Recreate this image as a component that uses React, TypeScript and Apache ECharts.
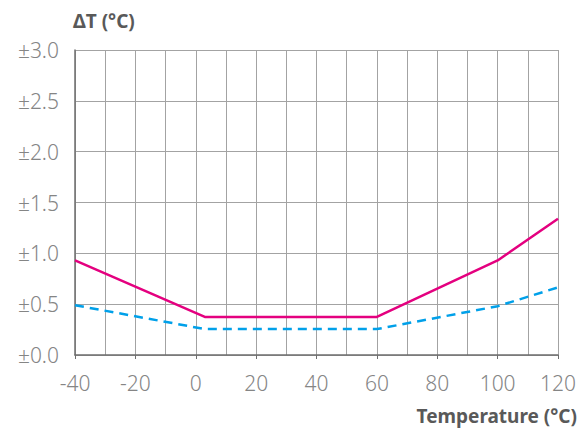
import React, { useEffect, useRef } from "react";
import * as echarts from "echarts";

const upperX = [-40, 3, 60, 100, 120];
const upperY = [0.93, 0.375, 0.375, 0.93, 1.34];
const lowerX = [-40, 3, 60, 100, 120];
const lowerY = [0.49, 0.255, 0.255, 0.48, 0.665];
const yTitle = "ΔT (°C)";
const xTitle = "Temperature (°C)";

export default function App() {
  const ref = useRef<HTMLDivElement>(null);
  useEffect(() => {
    if (!ref.current) return;
    const chart = echarts.init(ref.current, null, { renderer: "svg" });
    const font = "Noto Sans, sans-serif";
    chart.setOption({
      animation: false,
      grid: { left: 75, right: 22, top: 50, bottom: 73 },
      xAxis: {
        type: "value",
        min: -40,
        max: 120,
        interval: 20,
        axisLine: { show: true, onZero: false, lineStyle: { color: "#6e6e6e", width: 1.5 } },
        axisTick: { show: true, length: 4, lineStyle: { color: "#6e6e6e", width: 1 } },
        axisLabel: { color: "#858585", fontSize: 21, fontFamily: font, fontWeight: 300, margin: 17 },
        splitLine: { show: true, lineStyle: { color: "#a3a3a3", width: 1 } },
        minorTick: { show: false, splitNumber: 2 },
        minorSplitLine: { show: true, lineStyle: { color: "#a3a3a3", width: 1 } },
      },
      yAxis: {
        type: "value",
        min: 0,
        max: 3,
        interval: 0.5,
        axisLine: { show: true, onZero: false, lineStyle: { color: "#6e6e6e", width: 1.5 } },
        axisTick: { show: false },
        axisLabel: {
          color: "#858585",
          fontSize: 21,
          fontFamily: font,
          fontWeight: 300,
          margin: 16,
          formatter: (v: number) => "±" + v.toFixed(1),
        },
        splitLine: { show: true, lineStyle: { color: "#a3a3a3", width: 1 } },
      },
      graphic: [
        {
          type: "text",
          left: 73,
          top: 11,
          style: { text: yTitle, fill: "#595959", font: "bold 19px " + font },
        },
        {
          type: "text",
          right: 3,
          top: 406,
          style: { text: xTitle, fill: "#595959", font: "bold 19px " + font },
        },
      ],
      series: [
        {
          type: "line",
          data: upperX.map((x, i) => [x, upperY[i]]),
          symbol: "none",
          lineStyle: { color: "#e4007f", width: 2.5 },
        },
        {
          type: "line",
          data: lowerX.map((x, i) => [x, lowerY[i]]),
          symbol: "none",
          lineStyle: { color: "#00a0e9", width: 2.5, type: [9, 6] },
        },
      ],
    });
    return () => chart.dispose();
  }, []);
  return <div ref={ref} style={{ width: 580, height: 428, position: "absolute", left: 0, top: 0, background: "#fff" }} />;
}
